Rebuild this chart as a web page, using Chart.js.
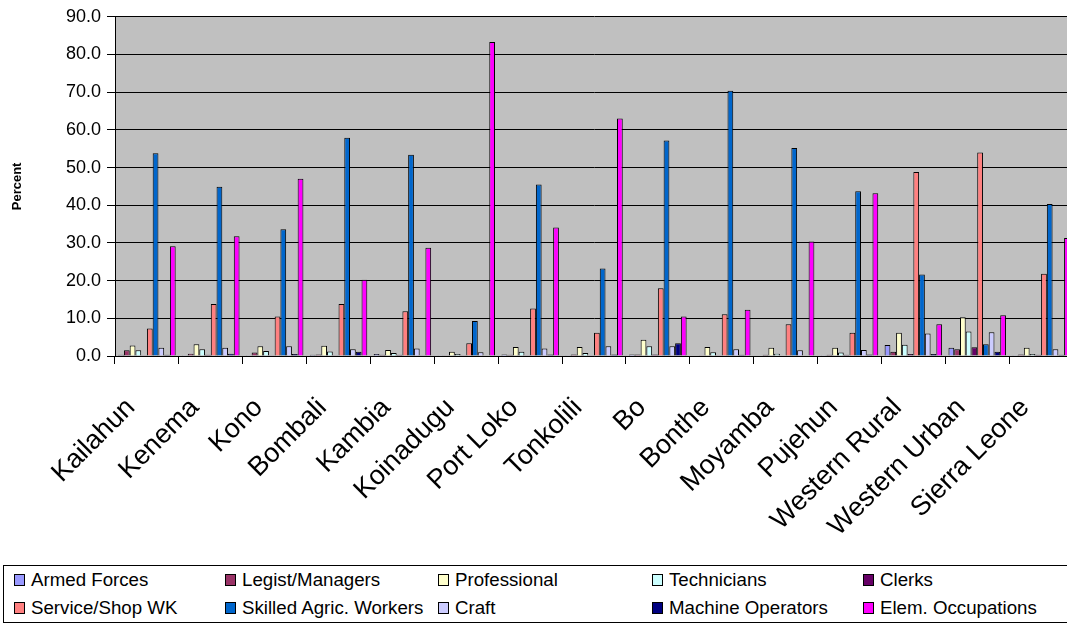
<!DOCTYPE html>
<html>
<head>
<meta charset="utf-8">
<script src="https://cdn.jsdelivr.net/npm/chart.js@4/dist/chart.umd.min.js"></script>
<style>
  html, body { margin: 0; padding: 0; background: #fff; overflow: hidden; }
  #wrap { position: relative; width: 1092px; height: 624px; }
  #chart { position: absolute; left: 0; top: 0; }
  #legend {
    position: absolute; left: 3px; top: 565px; width: 1100px; height: 58px;
    border: 1px solid #000; box-sizing: border-box;
    display: grid; grid-template-columns: 211px 213px 214px 211px auto;
    grid-template-rows: 28px 28px; padding-left: 10px;
    font-family: "Liberation Sans", Arial, sans-serif; font-size: 18.7px; color: #000;
  }
  .item { display: flex; align-items: center; white-space: nowrap; }
  .swatch { width: 9px; height: 10px; border: 1px solid #000; margin-right: 6px; flex: none; }
</style>
</head>
<body>
<div id="wrap">
  <canvas id="chart" width="1092" height="556"></canvas>
  <div id="legend"></div>
</div>
<script>
const districts = ['Kailahun', 'Kenema', 'Kono', 'Bombali', 'Kambia', 'Koinadugu', 'Port Loko',
  'Tonkolili', 'Bo', 'Bonthe', 'Moyamba', 'Pujehun', 'Western Rural', 'Western Urban', 'Sierra Leone']

const armedForces   = [0.3, 0.2, 0.2, 0.3, 0.5, 0.2, 0.4, 0.2, 0.4, 0.1, 0.1, 0.2, 2.9, 2.2, 0.2]
const legistManagers = [1.5, 0.6, 0.9, 0.4, 0.3, 0.2, 0.3, 0.4, 0.4, 0.2, 0.3, 0.3, 1.1, 1.8, 0.4]
const professional  = [2.8, 3.1, 2.6, 2.7, 1.6, 1.1, 2.4, 2.4, 4.3, 2.4, 2.2, 2.2, 6.2, 10.3, 2.2]
const technicians   = [1.5, 1.8, 1.3, 1.2, 0.8, 0.5, 1.1, 0.8, 2.6, 1.0, 0.6, 0.9, 3.0, 6.5, 0.5]
const clerks        = [0.2, 0.3, 0.2, 0.2, 0.3, 0.2, 0.2, 0.2, 0.4, 0.2, 0.1, 0.3, 0.5, 2.3, 0.3]
const serviceShop   = [7.3, 13.8, 10.5, 13.8, 11.9, 3.4, 12.6, 6.2, 18.0, 11.1, 8.4, 6.2, 48.8, 54.0, 21.8]
const skilledAgric  = [53.8, 44.9, 33.6, 57.9, 53.4, 9.3, 45.5, 23.2, 57.2, 70.4, 55.2, 43.7, 21.6, 3.1, 40.3]
const craft         = [2.2, 2.2, 2.6, 1.8, 2.0, 1.0, 2.0, 2.6, 2.6, 1.8, 1.5, 1.6, 6.0, 6.3, 1.8]
const machineOps    = [0.3, 0.6, 0.5, 1.1, 0.2, 0.1, 0.4, 0.4, 3.4, 0.3, 0.1, 0.4, 0.5, 1.1, 0.3]
const elemOccup     = [29.1, 31.8, 47.0, 20.2, 28.7, 83.3, 34.1, 63.0, 10.5, 12.3, 30.4, 43.2, 8.4, 10.8, 31.3]

const yTicks = [0, 10, 20, 30, 40, 50, 60, 70, 80, 90]

// legend order: two rows of five, filled across
const series = [
  { label: 'Armed Forces', data: armedForces, color: '#9999FF' },
  { label: 'Legist/Managers', data: legistManagers, color: '#993366' },
  { label: 'Professional', data: professional, color: '#FFFFCC' },
  { label: 'Technicians', data: technicians, color: '#CCFFFF' },
  { label: 'Clerks', data: clerks, color: '#660066' },
  { label: 'Service/Shop WK', data: serviceShop, color: '#FF8080' },
  { label: 'Skilled Agric. Workers', data: skilledAgric, color: '#0066CC' },
  { label: 'Craft', data: craft, color: '#CCCCFF' },
  { label: 'Machine Operators', data: machineOps, color: '#000080' },
  { label: 'Elem. Occupations', data: elemOccup, color: '#FF00FF' }
]

const FONT = '"Liberation Sans", Arial, sans-serif'

// grey plot area behind the bars
const plotBackground = {
  id: 'plotBackground',
  beforeDraw(chart) {
    const { ctx, chartArea } = chart
    ctx.save()
    ctx.fillStyle = '#C0C0C0'
    ctx.fillRect(chartArea.left, chartArea.top, chartArea.right - chartArea.left, chartArea.bottom - chartArea.top)
    ctx.restore()
  }
}

new Chart(document.getElementById('chart'), {
  type: 'bar',
  data: {
    labels: districts,
    datasets: series.map(s => ({
      label: s.label,
      data: s.data,
      backgroundColor: s.color,
      borderColor: '#000',
      borderWidth: 1,
      categoryPercentage: 0.9,
      barPercentage: 1.0
    }))
  },
  options: {
    responsive: false,
    animation: false,
    layout: { padding: { top: 16, left: 0, right: 0, bottom: 0 } },
    plugins: { legend: { display: false }, tooltip: { enabled: false } },
    scales: {
      x: {
        offset: true,
        grid: { display: true, drawOnChartArea: false, offset: true, color: '#000', tickLength: 8 },
        border: { color: '#000', width: 1 },
        ticks: {
          color: '#000', font: { family: FONT, size: 27 },
          minRotation: 45, maxRotation: 45, autoSkip: false,
          padding: 28, labelOffset: -16
        },
        afterFit(scale) { scale.height = 200 }
      },
      y: {
        min: 0, max: 90,
        afterBuildTicks(scale) { scale.ticks = yTicks.map(v => ({ value: v })) },
        grid: { color: '#000', tickLength: 8, drawTicks: true },
        border: { color: '#000', width: 1 },
        ticks: {
          color: '#000', font: { family: FONT, size: 18 }, padding: 6,
          callback: v => v.toFixed(1)
        },
        title: {
          display: true, text: 'Percent', color: '#000',
          font: { family: FONT, size: 13, weight: 'bold' },
          padding: { top: 10, bottom: 0 }
        },
        afterFit(scale) { scale.width = 115 }
      }
    }
  },
  plugins: [plotBackground]
})

// legend below the chart
const legend = document.getElementById('legend')
series.forEach(s => {
  const item = document.createElement('div')
  item.className = 'item'
  const sw = document.createElement('span')
  sw.className = 'swatch'
  sw.style.background = s.color
  item.appendChild(sw)
  item.appendChild(document.createTextNode(s.label))
  legend.appendChild(item)
})
</script>
</body>
</html>
